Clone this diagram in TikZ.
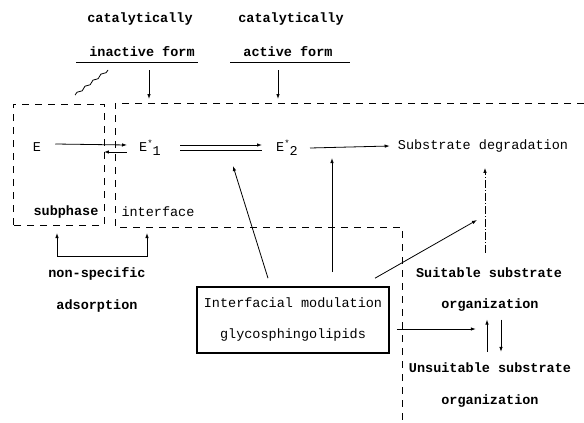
\documentclass[tikz,border=0pt]{standalone}
\usepackage{fontspec}
\setmainfont{Liberation Mono}
\usepackage{tikz}
\usetikzlibrary{arrows.meta}
\usetikzlibrary{decorations.pathmorphing}
\tikzset{
    lbl/.style = {font=\fontsize{13.5}{15}\selectfont,inner sep=1pt},
    blbl/.style = {lbl,font=\fontsize{13.5}{15}\selectfont\bfseries},
    react/.style = {line width=0.8pt,-{Latex[length=5pt,width=3.5pt]}},
    pair/.style = {line width=0.8pt,{Latex[length=5pt,width=3.5pt]}-{Latex[length=5pt,width=3.5pt]}},
    region/.style = {line width=0.9pt,dash pattern=on 7pt off 6pt},
    wiggle/.style = {line width=0.8pt,decorate,decoration={snake,amplitude=1pt,segment length=10pt}},
    modbox/.style = {draw,line width=1.6pt,minimum width=192pt,minimum height=66pt,align=center,
        font=\fontsize{13.5}{15}\selectfont}
}
\newcommand*{\enz}[1]{E\raisebox{5pt}{\fontsize{9}{9}\selectfont*}\raisebox{-4pt}{#1}}

\begin{document}
\begin{tikzpicture}[x=1pt,y=-1pt]
    \useasboundingbox (0,0) rectangle (584,423);
    % Forms
    \path (140,19) node[blbl] (cat1) {catalytically}
        (142,52) node[blbl] (inact) {inactive form}
        (291,19) node[blbl] (cat2) {catalytically}
        (288,52) node[blbl] (act) {active form}
    ;
    \draw[line width=0.9pt] ([xshift=-12pt,yshift=-4pt]inact.south west) -- ([xshift=2pt,yshift=-4pt]inact.south east);
    \draw[line width=0.9pt] ([xshift=-12pt,yshift=-4pt]act.south west) -- ([xshift=16pt,yshift=-4pt]act.south east);
    % Regions
    \path (149,99) coordinate (intop)
        (278,99) coordinate (actop)
        (57,233) coordinate (subbot)
        (147,233) coordinate (intbot)
    ;
    \draw[region] (13,225) -- (13,104) -- (104,104) -- (104,225) -- cycle;
    \draw[region] (584,103) -- (115,103) -- (115,227) -- (402,227) -- (402,423);
    \draw[wiggle] (108,70) -- (75,95);
    \draw[react] (inact.south -| intop) ++(0,12) -- (intop);
    \draw[react] (act.south -| actop) ++(0,12) -- (actop);
    \path (66,212) node[blbl] (sub) {subphase}
        (158,212) node[lbl] (int) {interface}
    ;
    % Reaction
    \path (37,147) node[lbl] (E) {E}
        (150,148) node[lbl] (E1) {\enz{1}}
        (287,148) node[lbl] (E2) {\enz{2}}
        (483,146) node[lbl] (sd) {Substrate degradation}
    ;
    \draw[react] ([xshift=13pt,yshift=3pt]E.east) -- ([xshift=-11pt,yshift=3pt]E1.west);
    \draw[react] ([xshift=-11pt,yshift=-4pt]E1.west) -- ++(-23,0);
    \draw[react] ([xshift=18pt,yshift=3pt]E1.east) -- ([xshift=-13pt,yshift=3pt]E2.west);
    \draw[line width=0.8pt] ([xshift=18pt,yshift=-2pt]E1.east) -- ([xshift=-13pt,yshift=-2pt]E2.west);
    \draw[react] ([xshift=11pt]E2.east) -- ([xshift=-7pt]sd.west);
    % Adsorption
    \draw[pair] (subbot) -- ++(0,23) -| (intbot);
    \path (97,274) node[blbl] (ns) {non-specific}
        (97,306) node[blbl] (ads) {adsorption}
    ;
    % Modulation
    \node[modbox] (mod) at (293,320) {Interfacial modulation\\[16pt]glycosphingolipids};
    \path (233,166) coordinate (eqtip)
        (332,158) coordinate (degtip)
        (477,220) coordinate (suittip)
    ;
    \foreach \dx/\dy/\dest in {-25/8/eqtip,39/14/degtip,82/8/suittip}
        \draw[react] ([xshift=\dx pt,yshift=\dy pt]mod.north) -- (\dest);
    % Substrate organization
    \path (489,273) node[blbl] (suit) {Suitable substrate}
        (490,305) node[blbl] (org1) {organization}
        (490,368) node[blbl] (unsuit) {Unsuitable substrate}
        (490,401) node[blbl] (org2) {organization}
    ;
    \draw[react,dash pattern=on 8pt off 2pt on 1pt off 2pt] ([xshift=-4pt,yshift=14pt]suit.north) -- ++(0,-85);
    \draw[react] ([xshift=7pt,yshift=-9pt]mod.east) -- ++(79,0);
    \draw[react,shorten <=10pt,shorten >=7pt] ([xshift=-3pt]unsuit.north) -- ([xshift=-3pt]org1.south);
    \draw[react,shorten <=7pt,shorten >=10pt] ([xshift=11pt]org1.south) -- ([xshift=11pt]unsuit.north);
\end{tikzpicture}
\end{document}
